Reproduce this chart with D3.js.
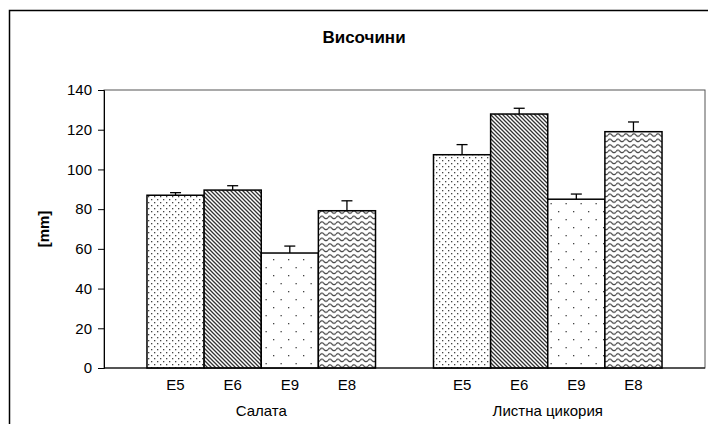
<!DOCTYPE html>
<html><head><meta charset="utf-8">
<script src="https://cdn.jsdelivr.net/npm/d3@7"></script>
<style>body{margin:0;background:#fff}svg{display:block}text{font-family:"Liberation Sans",Arial,sans-serif}</style>
</head><body><svg id="c" width="708" height="424"></svg>
<script>
const title = "Височини";
const yLabel = "[mm]";
const groups = ["Салата", "Листна цикория"];
const series = ["E5", "E6", "E9", "E8"];
const values = {
  "Салата": [87.0, 89.6, 57.9, 79.2],
  "Листна цикория": [107.4, 127.9, 85.0, 119.0]
};
const errors = {
  "Салата": [1.3, 2.2, 3.5, 5.0],
  "Листна цикория": [5.1, 2.9, 2.6, 4.9]
};
const yTicks = [0, 20, 40, 60, 80, 100, 120, 140];

const svg = d3.select("#c");
const L = 104, R = 705, T = 90, B = 368;

// patterns
const defs = svg.append("defs");
function pat(id, w, h, fn) {
  const p = defs.append("pattern").attr("id", id).attr("patternUnits", "userSpaceOnUse")
    .attr("width", w).attr("height", h);
  p.append("rect").attr("width", w).attr("height", h).attr("fill", "#fff");
  fn(p);
}
pat("pE5", 6, 6, p => {
  p.append("rect").attr("x", 1).attr("y", 1).attr("width", 1.3).attr("height", 1.3).attr("fill", "#444");
  p.append("rect").attr("x", 4).attr("y", 4).attr("width", 1.3).attr("height", 1.3).attr("fill", "#444");
});
pat("pE6", 4, 4, p => {
  p.append("path").attr("d", "M-1,-1 L5,5 M-3,1 L1,5 M3,-1 L5,1").attr("stroke", "#333").attr("stroke-width", 1.3);
});
pat("pE9", 15, 16, p => {
  p.append("rect").attr("x", 3).attr("y", 3).attr("width", 1.3).attr("height", 1.3).attr("fill", "#444");
  p.append("rect").attr("x", 10.5).attr("y", 11).attr("width", 1.3).attr("height", 1.3).attr("fill", "#444");
});
pat("pE8", 8, 5.5, p => {
  p.append("path").attr("d", "M0,3 Q2,0.5 4,3 T8,3").attr("fill", "none").attr("stroke", "#333").attr("stroke-width", 1.1);
});

// outer chart border
svg.append("rect").attr("x", 9.5).attr("y", 10.5).attr("width", 720).attr("height", 430)
  .attr("fill", "none").attr("stroke", "#000").attr("stroke-width", 1.5);

svg.append("text").attr("x", 364).attr("y", 43).attr("text-anchor", "middle")
  .attr("font-size", 17).attr("font-weight", "bold").text(title);

const y = d3.scaleLinear().domain([0, 140]).range([B, T]);
const x0 = d3.scaleBand().domain(groups).range([L, R]).paddingInner(0.2024).paddingOuter(0.15);
const x1 = d3.scaleBand().domain(series).range([0, x0.bandwidth()]).padding(0);

// plot area frame
svg.append("rect").attr("x", L).attr("y", T).attr("width", R - L).attr("height", B - T)
  .attr("fill", "none").attr("stroke", "#555").attr("stroke-width", 1);

// y axis
const ya = svg.append("g").attr("transform", `translate(${L},0)`)
  .call(d3.axisLeft(y).tickValues(yTicks).tickSize(6).tickPadding(6));
ya.select(".domain").attr("stroke", "#000");
ya.selectAll(".tick line").attr("stroke", "#000");
ya.selectAll("text").attr("font-size", 15).attr("fill", "#000")
  .style("font-family", '"Liberation Sans",Arial,sans-serif');

svg.append("text").attr("transform", `translate(44,${(T + B) / 2}) rotate(-90)`)
  .attr("text-anchor", "middle").attr("dy", "0.35em")
  .attr("font-size", 15).attr("font-weight", "bold").text(yLabel);

// bars
const data = [];
groups.forEach(g => series.forEach((s, i) => data.push({g, s, v: values[g][i], e: errors[g][i]})));

const bars = svg.append("g");
bars.selectAll("rect").data(data).join("rect")
  .attr("x", d => x0(d.g) + x1(d.s))
  .attr("y", d => y(d.v))
  .attr("width", x1.bandwidth())
  .attr("height", d => y(0) - y(d.v))
  .attr("fill", d => `url(#p${d.s})`)
  .attr("stroke", "#000").attr("stroke-width", 1.5);

// error bars
const eb = svg.append("g").attr("stroke", "#000").attr("stroke-width", 1.3);
data.forEach(d => {
  const cx = x0(d.g) + x1(d.s) + x1.bandwidth() / 2;
  eb.append("line").attr("x1", cx).attr("x2", cx).attr("y1", y(d.v)).attr("y2", y(d.v + d.e));
  eb.append("line").attr("x1", cx - 5.5).attr("x2", cx + 5.5).attr("y1", y(d.v + d.e)).attr("y2", y(d.v + d.e));
});

// baseline
svg.append("line").attr("x1", L).attr("x2", R).attr("y1", B).attr("y2", B).attr("stroke", "#000").attr("stroke-width", 1);

// x labels
const xl = svg.append("g");
xl.selectAll("text.s").data(data).join("text").attr("class", "s")
  .attr("x", d => x0(d.g) + x1(d.s) + x1.bandwidth() / 2)
  .attr("y", 390).attr("text-anchor", "middle").attr("font-size", 15).text(d => d.s);
xl.selectAll("text.g").data(groups).join("text").attr("class", "g")
  .attr("x", d => x0(d) + x0.bandwidth() / 2)
  .attr("y", 416).attr("text-anchor", "middle").attr("font-size", 15).text(d => d);
</script></body></html>
